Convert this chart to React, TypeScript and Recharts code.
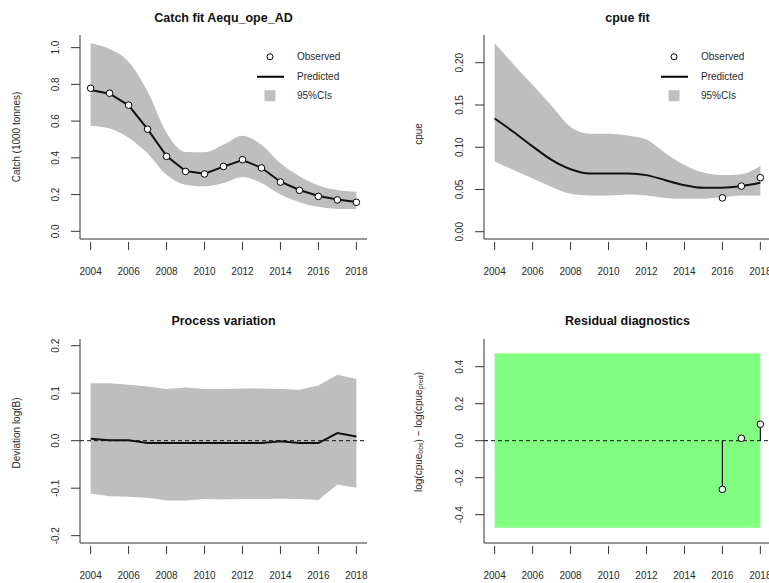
import React from "react"
import {
  ComposedChart, XAxis, YAxis, Area, Line, Scatter,
  ReferenceLine, ReferenceArea, Legend, Label, Customized,
} from "recharts"

// Jahre der Modellierung
const YEARS = [2004, 2005, 2006, 2007, 2008, 2009, 2010, 2011, 2012, 2013, 2014, 2015, 2016, 2017, 2018]
const YEAR_TICKS = [2004, 2006, 2008, 2010, 2012, 2014, 2016, 2018]
const X_DOMAIN: [number, number] = [2003.44, 2018.56]

// Catch fit (1000 t)
const CATCH_OBS = [0.779, 0.752, 0.687, 0.556, 0.408, 0.326, 0.312, 0.353, 0.390, 0.345, 0.268, 0.223, 0.190, 0.171, 0.158]
const CATCH_PRED = [0.770, 0.749, 0.686, 0.556, 0.410, 0.328, 0.314, 0.352, 0.388, 0.346, 0.270, 0.225, 0.192, 0.173, 0.160]
const CATCH_LO = [0.574, 0.560, 0.510, 0.424, 0.308, 0.254, 0.245, 0.263, 0.296, 0.263, 0.200, 0.158, 0.133, 0.122, 0.122]
const CATCH_HI = [1.024, 0.993, 0.924, 0.762, 0.537, 0.432, 0.430, 0.471, 0.520, 0.471, 0.370, 0.300, 0.250, 0.225, 0.215]

// cpue fit
const CPUE_PRED = [0.134, 0.118, 0.101, 0.085, 0.074, 0.069, 0.069, 0.069, 0.067, 0.061, 0.055, 0.052, 0.052, 0.054, 0.058]
const CPUE_LO = [0.083, 0.073, 0.063, 0.053, 0.045, 0.043, 0.043, 0.044, 0.043, 0.040, 0.039, 0.039, 0.041, 0.043, 0.043]
const CPUE_HI = [0.223, 0.198, 0.174, 0.149, 0.124, 0.116, 0.116, 0.114, 0.109, 0.093, 0.079, 0.070, 0.067, 0.068, 0.078]
const CPUE_OBS_YEARS = [2016, 2017, 2018]
const CPUE_OBS = [0.040, 0.054, 0.064]

// Process variation, Abweichung log(B)
const PROC_DEV = [0.004, 0.001, 0.001, -0.005, -0.005, -0.005, -0.005, -0.005, -0.005, -0.005, -0.001, -0.005, -0.005, 0.016, 0.009]
const PROC_LO = [-0.111, -0.117, -0.118, -0.120, -0.126, -0.126, -0.123, -0.124, -0.123, -0.123, -0.122, -0.123, -0.125, -0.092, -0.099]
const PROC_HI = [0.121, 0.121, 0.118, 0.114, 0.109, 0.112, 0.109, 0.109, 0.110, 0.110, 0.109, 0.107, 0.116, 0.139, 0.130]

// Residuen + Runs-Test-Grenzen
const RES_YEARS = [2016, 2017, 2018]
const RES = [-0.263, 0.013, 0.089]
const RUNS_LIMITS = [-0.47, 0.472]

const LEGEND_LABELS = ["Observed", "Predicted", "95%CIs"]

const AXIS = "#333"
const TEXT = "#2a2a2a"
const BAND = "#bebebe"
const FONT = '"Liberation Sans", Arial, sans-serif'

const catchData = YEARS.map((year, i) => ({
  year, obs: CATCH_OBS[i], pred: CATCH_PRED[i], band: [CATCH_LO[i], CATCH_HI[i]],
}))
const cpueData = YEARS.map((year, i) => ({
  year, pred: CPUE_PRED[i], band: [CPUE_LO[i], CPUE_HI[i]],
}))
const cpueObs = CPUE_OBS_YEARS.map((year, i) => ({ year, obs: CPUE_OBS[i] }))
const procData = YEARS.map((year, i) => ({
  year, dev: PROC_DEV[i], band: [PROC_LO[i], PROC_HI[i]],
}))
const resData = RES_YEARS.map((year, i) => ({ year, res: RES[i] }))

function XTick({ x, y, payload }: any) {
  return (
    <g>
      <line x1={x} x2={x} y1={y + 3} y2={y + 11} stroke={AXIS} />
      <text x={x} y={y + 35.5} textAnchor="middle" fontSize={10} fill={TEXT}>
        {payload.value}
      </text>
    </g>
  )
}

const yTick = (digits: number) => ({ x, y, payload }: any) => (
  <g>
    <line x1={x - 9} x2={x} y1={y} y2={y} stroke={AXIS} />
    <text
      x={x - 24} y={y}
      transform={`rotate(-90 ${x - 24} ${y})`}
      textAnchor="middle" dominantBaseline="central"
      fontSize={10} fill={TEXT}
    >
      {Number(payload.value).toFixed(digits)}
    </text>
  </g>
)

const dot = (props: any) => (
  <circle cx={props.cx} cy={props.cy} r={3.3} fill="#fff" stroke="#000" strokeWidth={1} />
)

function RLegend() {
  return (
    <div style={{ fontSize: 10, color: TEXT, fontFamily: FONT }}>
      {LEGEND_LABELS.map((name, i) => (
        <div key={name} style={{ display: "flex", alignItems: "center", height: 19.5 }}>
          <svg width={40} height={19.5}>
            {i === 0 && <circle cx={20} cy={9.75} r={3} fill="#fff" stroke="#000" />}
            {i === 1 && <line x1={7} x2={34} y1={9.75} y2={9.75} stroke="#000" strokeWidth={2} />}
            {i === 2 && <rect x={14.5} y={4.25} width={11} height={11} fill={BAND} />}
          </svg>
          <span style={{ marginLeft: 7 }}>{name}</span>
        </div>
      ))}
    </div>
  )
}

interface PanelProps {
  left: number
  top: number
  width: number
  height: number
  margin: { top: number; right: number; bottom: number; left: number }
  title: string
  titleY: number
  ylabel: React.ReactNode
  ylabelDx: number
  ylabelY: number
  yDomain: [number, number]
  yTicks: number[]
  yDigits: number
  data?: any[]
  children?: React.ReactNode
}

function Panel(p: PanelProps) {
  const plotLeft = p.margin.left + 40
  const plotRight = p.width - p.margin.right
  const titleX = (plotLeft + plotRight) / 2
  return (
    <div style={{ position: "absolute", left: p.left, top: p.top }}>
      <ComposedChart width={p.width} height={p.height} data={p.data} margin={p.margin}>
        <XAxis
          dataKey="year" type="number" domain={X_DOMAIN} ticks={YEAR_TICKS}
          allowDataOverflow interval={0} height={40}
          axisLine={{ stroke: AXIS }} tickLine={false} tickSize={0} tickMargin={0}
          tick={XTick}
        />
        <YAxis
          type="number" domain={p.yDomain} ticks={p.yTicks} allowDataOverflow
          interval={0} width={40}
          axisLine={{ stroke: AXIS }} tickLine={false} tickSize={0} tickMargin={0}
          tick={yTick(p.yDigits)}
        >
          <Label
            content={({ viewBox }: any) => {
              const cx = viewBox.x + viewBox.width - p.ylabelDx
              return (
                <text
                  x={cx} y={p.ylabelY}
                  transform={`rotate(-90 ${cx} ${p.ylabelY})`}
                  textAnchor="middle" dominantBaseline="central"
                  fontSize={10} fill={TEXT}
                >
                  {p.ylabel}
                </text>
              )
            }}
          />
        </YAxis>
        <Customized
          component={() => (
            <text x={titleX} y={p.titleY} textAnchor="middle" fontSize={12.5} fontWeight={700} fill="#111">
              {p.title}
            </text>
          )}
        />
        {p.children}
      </ComposedChart>
    </div>
  )
}

export default function App() {
  return (
    <div
      style={{
        position: "absolute", left: 0, top: 0, width: 769, height: 583,
        overflow: "hidden", background: "#fff", fontFamily: FONT,
      }}
    >
      {/* Catch fit */}
      <Panel
        left={0} top={0} width={385} height={290}
        margin={{ top: 35, right: 18, bottom: 11, left: 40 }}
        title="Catch fit Aequ_ope_AD" titleY={21.5}
        ylabel="Catch (1000 tonnes)" ylabelDx={63.5} ylabelY={137}
        yDomain={[-0.042, 1.069]} yTicks={[0, 0.2, 0.4, 0.6, 0.8, 1.0]} yDigits={1}
        data={catchData}
      >
        <Area dataKey="band" type="monotone" fill={BAND} fillOpacity={1} stroke="none" isAnimationActive={false} />
        <Line dataKey="pred" type="linear" stroke="#111" strokeWidth={2} dot={false} isAnimationActive={false} />
        <Scatter dataKey="obs" shape={dot} isAnimationActive={false} />
        <Legend
          layout="vertical" align="center" verticalAlign="middle"
          wrapperStyle={{ left: 250, top: 47, width: 120, height: 60 }}
          content={() => <RLegend />}
        />
      </Panel>

      {/* cpue fit */}
      <Panel
        left={385} top={0} width={390} height={290}
        margin={{ top: 35, right: 4, bottom: 11, left: 59 }}
        title="cpue fit" titleY={21.5}
        ylabel="cpue" ylabelDx={66} ylabelY={134}
        yDomain={[-0.0086, 0.2328]} yTicks={[0, 0.05, 0.1, 0.15, 0.2]} yDigits={2}
        data={cpueData}
      >
        <Area dataKey="band" type="monotone" fill={BAND} fillOpacity={1} stroke="none" isAnimationActive={false} />
        <Line dataKey="pred" type="monotone" stroke="#111" strokeWidth={2} dot={false} isAnimationActive={false} />
        <Scatter data={cpueObs} dataKey="obs" shape={dot} isAnimationActive={false} />
        <Legend
          layout="vertical" align="center" verticalAlign="middle"
          wrapperStyle={{ left: 269, top: 47, width: 120, height: 60 }}
          content={() => <RLegend />}
        />
      </Panel>

      {/* Process variation */}
      <Panel
        left={0} top={290} width={385} height={293}
        margin={{ top: 49, right: 18, bottom: 0, left: 40 }}
        title="Process variation" titleY={34.5}
        ylabel="Deviation log(B)" ylabelDx={63.5} ylabelY={143}
        yDomain={[-0.2154, 0.2141]} yTicks={[-0.2, -0.1, 0, 0.1, 0.2]} yDigits={1}
        data={procData}
      >
        <Area dataKey="band" type="linear" fill={BAND} fillOpacity={1} stroke="none" isAnimationActive={false} />
        <ReferenceLine y={0} stroke="#111" strokeDasharray="4 3" />
        <Line dataKey="dev" type="linear" stroke="#111" strokeWidth={2} dot={false} isAnimationActive={false} />
      </Panel>

      {/* Residual diagnostics */}
      <Panel
        left={385} top={290} width={390} height={293}
        margin={{ top: 49, right: 4, bottom: 0, left: 59 }}
        title="Residual diagnostics" titleY={34.5}
        ylabel={
          <>
            log(cpue<tspan fontSize={7} dy={2}>obs</tspan>
            <tspan dy={-2}>) {"\u2212"} log(cpue</tspan>
            <tspan fontSize={7} dy={2}>pred</tspan>
            <tspan dy={-2}>)</tspan>
          </>
        }
        ylabelDx={66} ylabelY={142}
        yDomain={[-0.553, 0.5497]} yTicks={[-0.4, -0.2, 0, 0.2, 0.4]} yDigits={1}
        data={resData}
      >
        <ReferenceArea
          x1={YEARS[0]} x2={YEARS[YEARS.length - 1]}
          y1={RUNS_LIMITS[0]} y2={RUNS_LIMITS[1]}
          fill="#80ff80" fillOpacity={1} stroke="none"
        />
        <ReferenceLine y={0} stroke="#111" strokeDasharray="4 3" />
        {resData.map(d => (
          <ReferenceLine
            key={d.year}
            segment={[{ x: d.year, y: 0 }, { x: d.year, y: d.res }]}
            stroke="#111" strokeWidth={1.2}
          />
        ))}
        <Scatter dataKey="res" shape={dot} isAnimationActive={false} />
      </Panel>
    </div>
  )
}
